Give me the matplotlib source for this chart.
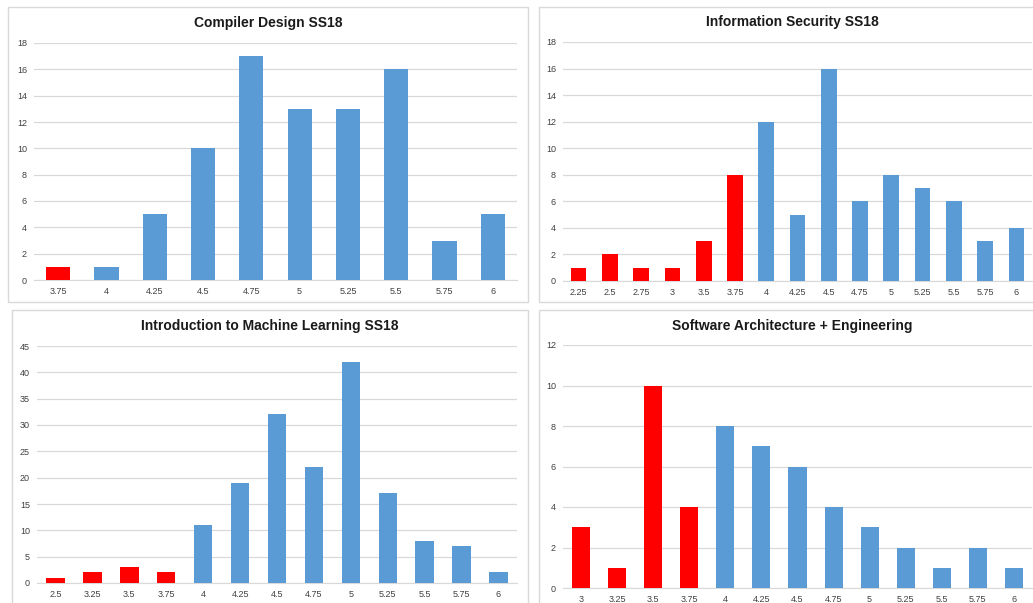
import matplotlib.pyplot as plt
from matplotlib.patches import Rectangle

plt.rcParams.update({'font.family': ['Liberation Sans', 'DejaVu Sans']})

# grades (x) and number of students per grade
cd_grades = ['3.75', '4', '4.25', '4.5', '4.75', '5', '5.25', '5.5', '5.75', '6']
cd_counts = [1, 1, 5, 10, 17, 13, 13, 16, 3, 5]

is_grades = ['2.25', '2.5', '2.75', '3', '3.5', '3.75', '4', '4.25', '4.5', '4.75',
             '5', '5.25', '5.5', '5.75', '6']
is_counts = [1, 2, 1, 1, 3, 8, 12, 5, 16, 6, 8, 7, 6, 3, 4]

ml_grades = ['2.5', '3.25', '3.5', '3.75', '4', '4.25', '4.5', '4.75', '5', '5.25',
             '5.5', '5.75', '6']
ml_counts = [1, 2, 3, 2, 11, 19, 32, 22, 42, 17, 8, 7, 2]

sa_grades = ['3', '3.25', '3.5', '3.75', '4', '4.25', '4.5', '4.75', '5', '5.25',
             '5.5', '5.75', '6']
sa_counts = [3, 1, 10, 4, 8, 7, 6, 4, 3, 2, 1, 2, 1]

W, H = 1033, 603
BLUE = '#5B9BD5'
RED = '#FF0000'
GRID = '#D9D9D9'

fig = plt.figure(figsize=(W / 100, H / 100), dpi=100)


def px_axes(left, right, top, bottom):
    return fig.add_axes([left / W, 1 - bottom / H, (right - left) / W, (bottom - top) / H])


def border(x0, y0, x1, y1):
    fig.patches.append(Rectangle((x0 / W, 1 - y1 / H), (x1 - x0) / W, (y1 - y0) / H,
                                 transform=fig.transFigure, fill=False,
                                 edgecolor=GRID, linewidth=1.0))


def panel(ax, grades, counts, ymax, step, title, tx, ty):
    x = range(len(grades))
    colors = [RED if float(g) < 4 else BLUE for g in grades]
    ax.bar(x, counts, width=0.5, color=colors, zorder=3)
    ax.set_xlim(-0.5, len(grades) - 0.5)
    ax.set_ylim(0, ymax)
    ax.set_yticks(range(0, ymax + 1, step))
    ax.set_xticks(list(x))
    ax.set_xticklabels(grades)
    ax.tick_params(length=0, labelsize=6.5, labelcolor='#404040', pad=5)
    ax.grid(axis='y', color=GRID, linewidth=0.9, zorder=0)
    for s in ['top', 'right', 'left']:
        ax.spines[s].set_visible(False)
    ax.spines['bottom'].set_color(GRID)
    ax.set_facecolor('none')
    fig.text(tx / W, 1 - ty / H, title, ha='center', va='center',
             fontsize=10, fontweight='bold', color='#1a1a1a')


border(8, 7, 528, 302)
border(539, 7, 1045, 302)
border(12, 310, 528, 610)
border(539, 310, 1045, 610)

ax1 = px_axes(34, 517, 43, 280)
panel(ax1, cd_grades, cd_counts, 18, 2, 'Compiler Design SS18', 268, 23)

ax2 = px_axes(563, 1032, 42, 281)
panel(ax2, is_grades, is_counts, 18, 2, 'Information Security SS18', 792, 22)

ax3 = px_axes(37, 517, 346, 583)
panel(ax3, ml_grades, ml_counts, 45, 5, 'Introduction to Machine Learning SS18', 270, 326)

ax4 = px_axes(563, 1032, 345, 588)
panel(ax4, sa_grades, sa_counts, 12, 2, 'Software Architecture + Engineering', 792, 326)

plt.savefig('out.png', dpi=100)
